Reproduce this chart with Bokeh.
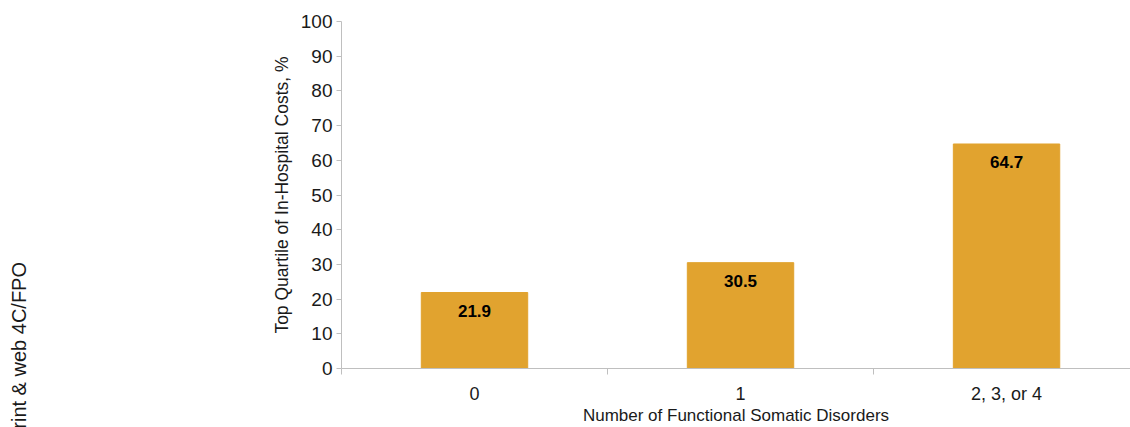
import html
from bokeh.plotting import figure
from bokeh.layouts import row
from bokeh.models import ColumnDataSource, FixedTicker, SingleIntervalTicker, Range1d, Div
from bokeh.core.properties import value
from bokeh.embed import file_html
from bokeh.resources import INLINE

categories = ["0", "1", "2, 3, or 4"]
values = [21.9, 30.5, 64.7]
value_labels = ["21.9", "30.5", "64.7"]
y_title = "Top Quartile of In-Hospital Costs, %"
x_title = "Number of Functional Somatic Disorders"
side_note = "print & web 4C/FPO"

FONT = "Liberation Sans"
BAR = "#E1A32F"
AXIS = "#BFBFBF"
TXT = "#1a1a1a"

xs = [i + 0.5 for i in range(len(categories))]
src = ColumnDataSource(dict(x=xs, top=values, lab=value_labels))

# side strip with the rotated production note (reads bottom to top, cut at the page bottom)
side = Div(
    width=40, height=427,
    text=(
        '<div style="position:relative;width:40px;height:427px;overflow:hidden;">'
        '<div style="position:absolute;right:21px;top:252px;line-height:20px;white-space:nowrap;'
        "font-family:'Liberation Sans';font-size:20px;color:%s;"
        'transform-origin:100%% 50%%;transform:rotate(-90deg);">%s</div></div>'
    ) % (TXT, html.escape(side_note)),
    styles={"margin": "0", "padding": "0"},
)

p = figure(width=1090, height=427, output_backend="svg", toolbar_location=None,
           x_range=Range1d(0, 2.966), y_range=Range1d(0, 100),
           min_border_left=301, min_border_right=0, min_border_top=21, min_border_bottom=58)
p.outline_line_color = None
p.xgrid.visible = False
p.ygrid.visible = False
p.background_fill_color = "white"
p.border_fill_color = "white"

p.vbar(x="x", top="top", bottom=0, width=0.4, source=src, fill_color=BAR, line_color=BAR)
p.text(x="x", y="top", text="lab", source=src, y_offset=18, text_align="center",
       text_baseline="middle", text_font=value(FONT), text_font_size="17px",
       text_font_style="bold", text_color="black")

# x axis
xa = p.xaxis[0]
xa.ticker = FixedTicker(ticks=xs, minor_ticks=list(range(len(categories) + 1)))
xa.major_label_overrides = {x: c for x, c in zip(xs, categories)}
xa.major_tick_out = 0
xa.major_tick_in = 0
xa.minor_tick_out = 6
xa.minor_tick_in = 0
xa.minor_tick_line_color = AXIS
xa.axis_line_color = AXIS
xa.major_label_standoff = 9
xa.major_label_text_font = FONT
xa.major_label_text_font_size = "18px"
xa.major_label_text_color = TXT
xa.axis_label = x_title
xa.axis_label_text_font = FONT
xa.axis_label_text_font_size = "17px"
xa.axis_label_text_font_style = "normal"
xa.axis_label_text_color = TXT
xa.axis_label_standoff = -1

# y axis
ya = p.yaxis[0]
ya.ticker = SingleIntervalTicker(interval=10)
ya.axis_line_color = AXIS
ya.major_tick_line_color = AXIS
ya.major_tick_out = 5
ya.major_tick_in = 0
ya.minor_tick_line_color = None
ya.major_label_standoff = 4
ya.major_label_text_font = FONT
ya.major_label_text_font_size = "19px"
ya.major_label_text_color = TXT
ya.axis_label = y_title
ya.axis_label_text_font = FONT
ya.axis_label_text_font_size = "17.5px"
ya.axis_label_text_font_style = "normal"
ya.axis_label_text_color = TXT
ya.axis_label_standoff = 6

layout = row(side, p, spacing=0)
open("out.html", "w").write(file_html(layout, INLINE))
